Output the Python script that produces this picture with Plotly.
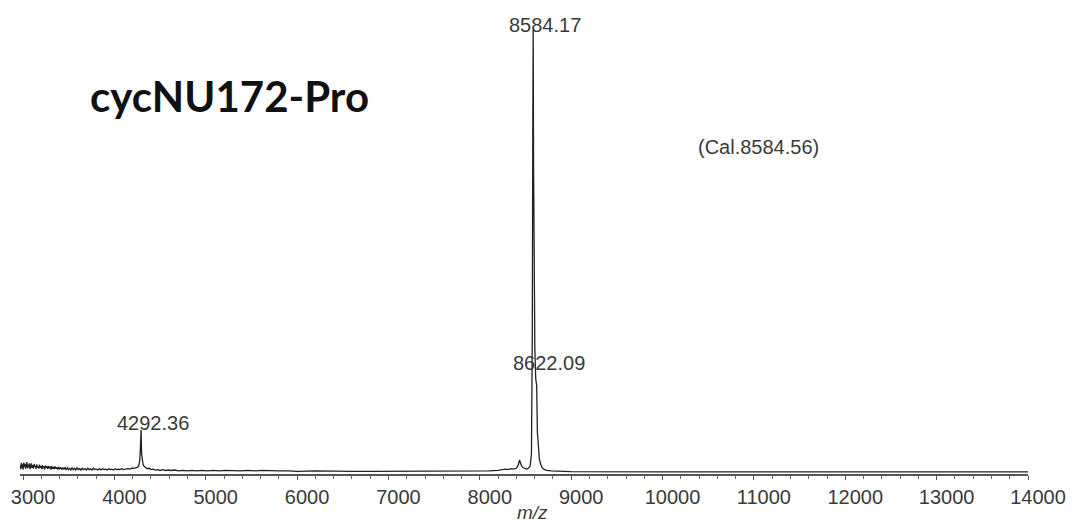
import plotly.graph_objects as go

# MALDI-TOF spectrum of cycNU172-Pro (m/z vs relative intensity, %)
mz = [
    2968, 2975, 2981, 2988, 2994, 3001, 3008, 3015, 3021, 3028, 3035, 3042, 3048, 3055,
    3062, 3070, 3077, 3084, 3091, 3098, 3106, 3113, 3121, 3128, 3136, 3143, 3151, 3158,
    3166, 3174, 3181, 3189, 3197, 3205, 3213, 3221, 3229, 3237, 3245, 3253, 3262, 3270,
    3279, 3287, 3296, 3305, 3314, 3323, 3332, 3341, 3350, 3360, 3370, 3380, 3390, 3400,
    3412, 3424, 3436, 3448, 3460, 3472, 3485, 3498, 3511, 3524, 3537, 3550, 3563, 3577,
    3591, 3605, 3619, 3633, 3648, 3663, 3678, 3693, 3708, 3723, 3739, 3755, 3771, 3787,
    3803, 3819, 3836, 3853, 3870, 3887, 3904, 3921, 3938, 3955, 3972, 3990, 4008, 4026,
    4044, 4062, 4080, 4098, 4116, 4134, 4152, 4170, 4190, 4210, 4230, 4250, 4265, 4278,
    4286, 4292.36, 4298, 4305, 4315, 4328, 4342, 4360, 4380, 4400, 4425, 4450, 4475, 4500,
    4530, 4560, 4590, 4620, 4660, 4700, 4750, 4800, 4850, 4900, 4960, 5020, 5080, 5150,
    5220, 5300, 5380, 5460, 5540, 5620, 5700, 5800, 5900, 6000, 6200, 6400, 6600, 6800,
    7000, 7300, 7600, 7900, 8100, 8200, 8250, 8280, 8310, 8340, 8370, 8400, 8420, 8435,
    8448, 8460, 8475, 8490, 8510, 8530, 8550, 8565, 8574, 8580, 8584.17, 8588, 8594, 8602,
    8612, 8622.09, 8630, 8640, 8652, 8665, 8680, 8700, 8730, 8780, 8850, 9000, 10000, 12000,
    14000,
]
intensity = [
    1.5, 0.6, 2.0, 0.9, 1.7, 0.5, 2.1, 1.1, 1.8, 0.7, 1.4, 2.2, 0.8, 1.6,
    1.0, 1.9, 0.6, 1.4, 1.9, 0.9, 1.5, 0.7, 1.8, 1.1, 1.4, 0.6, 1.7, 1.0,
    1.3, 0.7, 1.6, 0.9, 1.3, 0.6, 1.5, 0.8, 1.2, 0.5, 1.4, 0.9, 1.3, 0.6,
    1.3, 0.8, 1.2, 0.5, 1.3, 0.7, 1.1, 0.6, 1.2, 0.7, 1.0, 0.5, 1.1, 0.6,
    1.0, 0.5, 0.9, 0.6, 1.0, 0.4, 0.9, 0.5, 0.8, 0.4, 0.9, 0.5, 0.8, 0.4,
    0.9, 0.5, 0.7, 0.4, 0.8, 0.5, 0.7, 0.4, 0.8, 0.5, 0.7, 0.4, 0.8, 0.5,
    0.6, 0.4, 0.7, 0.4, 0.7, 0.5, 0.6, 0.4, 0.7, 0.5, 0.6, 0.4, 0.7, 0.5,
    0.6, 0.5, 0.7, 0.5, 0.6, 0.6, 0.7, 0.6, 0.8, 0.8, 0.9, 1.0, 1.3, 2.5,
    6.0, 9.5, 4.0, 2.2, 1.6, 1.2, 0.9, 0.7, 0.8, 0.5, 0.6, 0.4, 0.5, 0.3,
    0.5, 0.3, 0.4, 0.3, 0.4, 0.2, 0.3, 0.2, 0.3, 0.2, 0.3, 0.2, 0.3, 0.2,
    0.3, 0.2, 0.2, 0.3, 0.2, 0.3, 0.2, 0.2, 0.2, 0.1, 0.2, 0.1, 0.1, 0.1,
    0.1, 0.1, 0.1, 0.1, 0.2, 0.3, 0.5, 0.6, 0.5, 0.7, 0.6, 0.8, 1.5, 2.7,
    1.8, 1.2, 0.9, 0.7, 0.6, 0.8, 1.2, 4.0, 30.0, 80.0, 100.0, 70.0, 42.0, 28.0,
    21.0, 19.6, 9.0, 4.5, 2.8, 1.8, 1.0, 0.6, 0.3, 0.2, 0.1, 0.05, 0.0, 0.0,
    0.0,
]

# Labelled peaks
peak_mz = [8584.17, 4292.36, 8622.09]
peak_int = [100.0, 9.5, 19.6]
peak_text = ["8584.17", "4292.36", "8622.09"]
peak_yshift = [5, 7, 22]

x_ticks = [3000, 4000, 5000, 6000, 7000, 8000, 9000, 10000, 11000, 12000, 13000, 14000]

label_font = dict(family="Arial, Liberation Sans, sans-serif", size=20, color="#3a3a3a")

fig = go.Figure()
fig.add_trace(go.Scatter(
    x=mz, y=intensity, mode="lines",
    line=dict(color="#222222", width=1.3),
    hoverinfo="x+y", showlegend=False,
))

for x, y, t, ys in zip(peak_mz, peak_int, peak_text, peak_yshift):
    fig.add_annotation(x=x, y=y, text=t, showarrow=False, xshift=12, yshift=ys,
                       yanchor="middle", font=label_font)

fig.add_annotation(xref="paper", yref="paper", x=(229 - 20) / 1008, y=(474 - 96) / 454,
                   text="<b>cycNU172-Pro</b>", showarrow=False, xanchor="center", yanchor="middle",
                   font=dict(family="Lato, Open Sans, sans-serif", size=42, color="#111"))
fig.add_annotation(xref="paper", yref="paper", x=(758 - 20) / 1008, y=(474 - 147) / 454,
                   text="(Cal.8584.56)", showarrow=False, xanchor="center", yanchor="middle",
                   font=label_font)
fig.add_annotation(xref="paper", yref="paper", x=(532 - 20) / 1008, y=(474 - 512) / 454,
                   text="<i>m/z</i>", showarrow=False, xanchor="center", yanchor="middle",
                   font=dict(family="Arial, Liberation Sans, sans-serif", size=19, color="#3a3a3a"))

fig.update_layout(
    width=1072, height=524,
    margin=dict(l=20, r=44, t=20, b=50, autoexpand=False),
    paper_bgcolor="white", plot_bgcolor="white",
    xaxis=dict(
        range=[2967, 14000], tickvals=x_ticks, ticktext=[str(v) for v in x_ticks],
        showline=True, linecolor="#555", linewidth=1.5,
        ticks="outside", ticklen=4, tickcolor="#555", tickwidth=1.2,
        minor=dict(dtick=200, ticks="outside", ticklen=3, tickcolor="#666", tickwidth=1),
        showgrid=False, zeroline=False, tickfont=label_font, ticklabelshift=10,
        automargin=False,
    ),
    yaxis=dict(range=[-0.5, 102.26], visible=False, showgrid=False, zeroline=False,
               automargin=False),
)

fig.write_html("out.html")
